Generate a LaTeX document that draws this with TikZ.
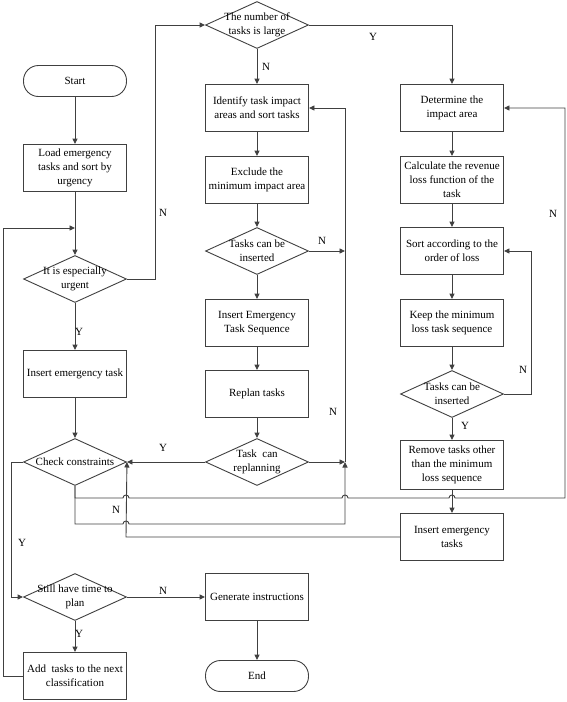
\documentclass[tikz,border=0pt]{standalone}
\usepackage{fontspec}
\setmainfont{Liberation Serif}
\usetikzlibrary{shapes.geometric,arrows.meta}
\begin{document}
\begin{tikzpicture}[x=1pt,y=-1pt,
  font=\fontsize{11}{14}\selectfont,
  ln/.style={draw=black!75, line width=0.9pt},
  arr/.style={ln, -{Triangle[length=5.5pt,width=5pt]}},
  box/.style={draw=black!75, line width=0.9pt, minimum width=103pt, minimum height=47pt, inner sep=1pt, align=center},
  term/.style={box, rounded corners=15pt, minimum height=31pt},
  dia/.style={draw=black!75, line width=0.9pt, diamond, minimum width=103pt, minimum height=47pt, inner sep=0pt},
  txt/.style={align=center, inner sep=0pt},
  lab/.style={inner sep=0pt}]
\path[use as bounding box] (0,0) rectangle (567,702);

% left column
\node[term] (start) at (75,81) {Start};
\node[box] (load) at (75,168) {Load emergency\\tasks and sort by\\urgency};
\node[dia] (urg) at (75,279) {};
\node[txt] (urgt) at (75,279) {It is especially\\urgent};
\node[box] (ins1) at (75,374) {Insert emergency task};
\node[dia] (chk) at (75,462) {};
\node[txt] (chkt) at (75,462) {Check constraints};
\node[dia] (time) at (75,597) {};
\node[txt] (timet) at (75,597) {Still have time to\\plan};
\node[box] (add) at (75,676) {Add\ \ tasks to the next\\classification};

% middle column
\node[dia] (many) at (257,25) {};
\node[txt] (manyt) at (257,25) {The number of\\tasks is large};
\node[box] (ident) at (257,108) {Identify task impact\\areas and sort tasks};
\node[box] (excl) at (257,180) {Exclude the\\minimum impact area};
\node[dia] (insa) at (257,251) {};
\node[txt] (insat) at (257,251) {Tasks can be\\inserted};
\node[box] (seq) at (257,323) {Insert Emergency\\Task Sequence};
\node[box] (replan) at (257,394) {Replan tasks};
\node[dia] (rep) at (257,462) {};
\node[txt] (rept) at (257,462) {Task\ \ can\\replanning};
\node[box] (gen) at (257,597) {Generate instructions};
\node[term] (end) at (257,676) {End};

% right column
\node[box] (det) at (452,108) {Determine the\\impact area};
\node[box] (calc) at (452,180) {Calculate the revenue\\loss function of the\\task};
\node[box] (sort) at (452,251) {Sort according to the\\order of loss};
\node[box] (keep) at (452,323) {Keep the minimum\\loss task sequence};
\node[dia] (insb) at (452,394) {};
\node[txt] (insbt) at (452,394) {Tasks can be\\inserted};
\node[box, minimum height=49pt] (remove) at (452,465) {Remove tasks other\\than the minimum\\loss sequence};
\node[box] (ins2) at (452,537) {Insert emergency\\tasks};

% junction coordinates
\coordinate (j1) at (75,228);
\coordinate (ja) at (345,251);
\coordinate (jb) at (345,462);

% straight flow
\draw[arr] (start) -- (load);
\draw[arr] (load) -- (urg);
\draw[arr] (urg) -- (ins1);
\draw[arr] (ins1) -- (chk);
\draw[arr] (time) -- (add);
\draw[arr] (time) -- (gen);
\draw[arr] (gen) -- (end);
\draw[arr] (many) -- (ident);
\draw[arr] (ident) -- (excl);
\draw[arr] (excl) -- (insa);
\draw[arr] (insa) -- (seq);
\draw[arr] (seq) -- (replan);
\draw[arr] (replan) -- (rep);
\draw[arr] (det) -- (calc);
\draw[arr] (calc) -- (sort);
\draw[arr] (sort) -- (keep);
\draw[arr] (keep) -- (insb);
\draw[arr] (insb) -- (remove);
\draw[arr] (remove) -- (ins2);

% routed connectors
\draw[arr] (add.west) -- (3,676) -- (3,228) -- (j1);
\draw[arr] (urg.east) -- (155,279) -- (155,25) -- (many.west);
\draw[arr] (many.east) -| (det.north);
\draw[arr] (chk.west) -- (11,462) -- (11,597) -- (time.west);
\draw[arr] (insa.east) -- (ja);
\draw[arr] (rep.west) -- (chk.east);
\draw[arr] (rep.east) -- (jb);
\draw[arr] (jb) |- (ident.east);
\draw[arr] (insb.east) -- (531,394) |- (sort.east);
\draw[arr] (ins2.west) -- (126,537) -- (chk.east);
\draw[arr] (chk.south) -- (75,524) -- (123,524) .. controls +(0,-4) and +(0,-4) .. (129,524) -- (345,524) -- (jb);
\draw[arr] (chk.south) -- (75,498) -- (123,498) .. controls +(0,-4) and +(0,-4) .. (129,498)
  -- (342,498) .. controls +(0,-4) and +(0,-4) .. (348,498)
  -- (449,498) .. controls +(0,-4) and +(0,-4) .. (455,498)
  -- (565,498) |- (det.east);

% labels
\node[lab] (l1) at (79,332) {Y};
\node[lab] (l2) at (163,213) {N};
\node[lab] (l3) at (266,67) {N};
\node[lab] (l4) at (373,37) {Y};
\node[lab] (l5) at (322,241) {N};
\node[lab] (l6) at (163,448) {Y};
\node[lab] (l7) at (333,412) {N};
\node[lab] (l8) at (116,510) {N};
\node[lab] (l9) at (22,543) {Y};
\node[lab] (l10) at (163,591) {N};
\node[lab] (l11) at (79,634) {Y};
\node[lab] (l12) at (553,214) {N};
\node[lab] (l13) at (523,370) {N};
\node[lab] (l14) at (465,426) {Y};
\end{tikzpicture}
\end{document}
